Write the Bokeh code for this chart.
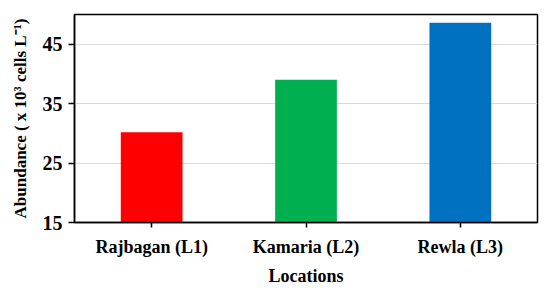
from bokeh.plotting import figure
from bokeh.models import ColumnDataSource, FactorRange, Range1d, FixedTicker
from bokeh.embed import file_html
from bokeh.resources import INLINE

locations = ["Rajbagan (L1)", "Kamaria (L2)", "Rewla (L3)"]
abundance = [30.2, 39.0, 48.6]
colors = ["#ff0000", "#00b050", "#0070c0"]
y_ticks = [15, 25, 35, 45]

src = ColumnDataSource(dict(loc=locations, val=abundance, col=colors))

p = figure(width=550, height=288, x_range=FactorRange(*locations, range_padding=0),
           y_range=Range1d(15, 50), output_backend="svg", toolbar_location=None,
           min_border_left=74, min_border_right=13, min_border_top=14, min_border_bottom=0)

p.vbar(x="loc", top="val", bottom=15, width=0.4, fill_color="col", line_color=None, source=src)

font = "Liberation Serif"
p.outline_line_color = "black"
p.outline_line_width = 1.5
p.xgrid.grid_line_color = None
p.ygrid.grid_line_color = "#d9d9d9"
p.ygrid.grid_line_width = 1.2

p.yaxis.ticker = FixedTicker(ticks=y_ticks)
p.yaxis.minor_tick_line_color = None
p.yaxis.major_tick_in = 0
p.yaxis.major_tick_out = 6
p.xaxis.major_tick_in = 0
p.xaxis.major_tick_out = 5

for ax in (p.xaxis, p.yaxis):
    ax.axis_line_color = "black"
    ax.axis_line_width = 1.5
    ax.major_tick_line_color = "black"
    ax.major_tick_line_width = 1.5
    ax.major_label_text_font = font
    ax.major_label_text_font_style = "bold"
    ax.major_label_text_font_size = "18px"
    ax.major_label_text_color = "black"
    ax.axis_label_text_font = font
    ax.axis_label_text_font_style = "bold"
    ax.axis_label_text_font_size = "18px"
    ax.axis_label_text_color = "black"

p.yaxis.major_label_text_font_size = "20px"
p.yaxis.axis_label_text_font_size = "17px"
p.xaxis.axis_label = "Locations"
p.yaxis.axis_label = "Abundance ( x 10\u00b3 cells L\u207b\u00b9)"
p.xaxis.major_label_standoff = 9
p.xaxis.axis_label_standoff = 6
p.yaxis.major_label_standoff = 6
p.yaxis.axis_label_standoff = 10

open("out.html", "w").write(file_html(p, INLINE))
